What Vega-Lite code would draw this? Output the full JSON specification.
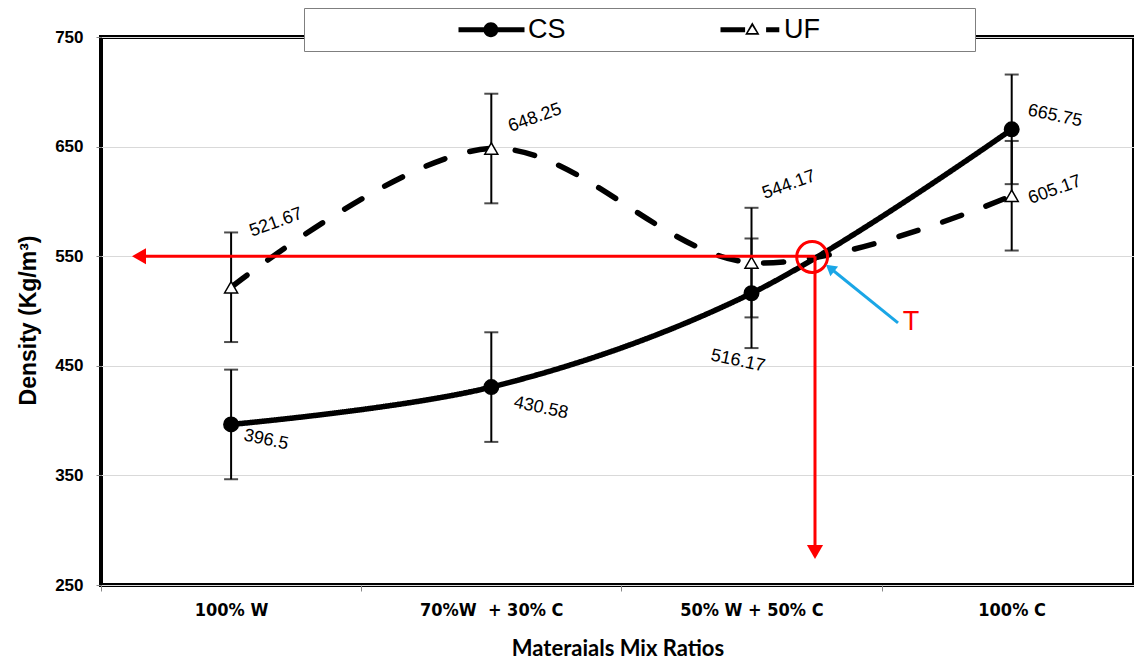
{
  "$schema": "https://vega.github.io/schema/vega-lite/v6.json",
  "width": 1033,
  "height": 548,
  "autosize": {"type": "none"},
  "padding": {"left": 101, "top": 37, "right": 0, "bottom": 82},
  "background": "white",
  "config": {
    "view": {"stroke": "black", "strokeWidth": 4},
    "font": "Liberation Sans"
  },
  "datasets": {
    "series": [
      {"pos": 0, "mix": "100% W", "series": "CS", "value": 396.5, "lo": 346.5, "hi": 446.5},
      {"pos": 1, "mix": "70%W  + 30% C", "series": "CS", "value": 430.58, "lo": 380.58, "hi": 480.58},
      {"pos": 2, "mix": "50% W + 50% C", "series": "CS", "value": 516.17, "lo": 466.17, "hi": 566.17},
      {"pos": 3, "mix": "100% C", "series": "CS", "value": 665.75, "lo": 615.75, "hi": 715.75},
      {"pos": 0, "mix": "100% W", "series": "UF", "value": 521.67, "lo": 471.67, "hi": 571.67},
      {"pos": 1, "mix": "70%W  + 30% C", "series": "UF", "value": 648.25, "lo": 598.25, "hi": 698.25},
      {"pos": 2, "mix": "50% W + 50% C", "series": "UF", "value": 544.17, "lo": 494.17, "hi": 594.17},
      {"pos": 3, "mix": "100% C", "series": "UF", "value": 605.17, "lo": 555.17, "hi": 655.17}
    ],
    "labels": [
      {"series": "CS", "text": "396.5", "lx": 0.134, "ly": 382.3},
      {"series": "CS", "text": "430.58", "lx": 1.191, "ly": 411.5},
      {"series": "CS", "text": "516.17", "lx": 1.948, "ly": 454.4},
      {"series": "CS", "text": "665.75", "lx": 3.166, "ly": 677.9},
      {"series": "UF", "text": "521.67", "lx": 0.173, "ly": 580.6},
      {"series": "UF", "text": "648.25", "lx": 1.168, "ly": 676.1},
      {"series": "UF", "text": "544.17", "lx": 2.144, "ly": 615.0},
      {"series": "UF", "text": "605.17", "lx": 3.166, "ly": 610.4}
    ],
    "redlines": [
      {"x": 2.244, "y": 550, "x2": -0.354, "y2": 550},
      {"x": 2.244, "y": 550, "x2": 2.244, "y2": 285}
    ],
    "redheads": [
      {"x": -0.354, "y": 550, "dir": "left"},
      {"x": 2.244, "y": 280.1, "dir": "down"}
    ],
    "circle": [{"x": 2.233, "y": 549.3}],
    "blueline": [{"x": 2.563, "y": 489.1, "x2": 2.302, "y2": 539.2}],
    "bluehead": [{"x": 2.302, "y": 539.2}],
    "tlabel": [{"x": 2.613, "y": 490, "text": "T"}]
  },
  "resolve": {"scale": {"shape": "independent"}},
  "encoding": {
    "x": {
      "type": "quantitative",
      "scale": {"domain": [-0.5, 3.47], "nice": false, "zero": false},
      "axis": {
        "title": "Materaials Mix Ratios",
        "values": [-0.5, 0.5, 1.5, 2.5],
        "labelExpr": "datum.value < 0 ? '100% W' : datum.value < 1 ? '70%W\u00a0 + 30% C' : datum.value < 2 ? '50% W + 50% C' : '100% C'",
        "labelOffset": 130,
        "labelFlush": false,
        "labelOverlap": false,
        "labelBound": false,
        "grid": false,
        "domain": false,
        "tickColor": "#888888",
        "tickSize": 6,
        "labelFont": "DejaVu Sans Condensed",
        "labelFontWeight": "bold",
        "labelFontSize": 18,
        "labelColor": "black",
        "labelPadding": 10,
        "titleFont": "Lato",
        "titleFontWeight": "bold",
        "titleFontSize": 22,
        "titleColor": "black",
        "titlePadding": 19
      }
    },
    "y": {
      "type": "quantitative",
      "scale": {"domain": [250, 750], "nice": false, "zero": false},
      "axis": {
        "title": "Density (Kg/m³)",
        "values": [250, 350, 450, 550, 650, 750],
        "grid": true,
        "gridColor": "#d9d9d9",
        "domain": false,
        "tickColor": "#888888",
        "tickSize": 5,
        "labelFont": "Liberation Sans",
        "labelFontWeight": "bold",
        "labelFontSize": 17,
        "labelColor": "black",
        "labelPadding": 13,
        "titleFont": "Liberation Sans",
        "titleFontWeight": "bold",
        "titleFontSize": 23,
        "titleColor": "black",
        "titlePadding": 14,
        "titleY": 283
      }
    }
  },
  "layer": [
    {
      "data": {"name": "series"},
      "mark": {"type": "rule", "color": "black", "strokeWidth": 2},
      "encoding": {"x": {"field": "pos"}, "y": {"field": "lo"}, "y2": {"field": "hi"}}
    },
    {
      "data": {"name": "series"},
      "mark": {"type": "tick", "orient": "horizontal", "color": "black", "size": 14, "thickness": 2},
      "encoding": {"x": {"field": "pos"}, "y": {"field": "lo"}}
    },
    {
      "data": {"name": "series"},
      "mark": {"type": "tick", "orient": "horizontal", "color": "black", "size": 14, "thickness": 2},
      "encoding": {"x": {"field": "pos"}, "y": {"field": "hi"}}
    },
    {
      "data": {"name": "series"},
      "mark": {"type": "line", "color": "black", "strokeWidth": 5.5, "interpolate": "catmull-rom", "strokeCap": "round"},
      "encoding": {
        "x": {"field": "pos"},
        "y": {"field": "value"},
        "strokeDash": {"field": "series", "type": "nominal", "scale": {"domain": ["CS", "UF"], "range": [[1, 0], [20, 26]]}, "legend": null}
      }
    },
    {
      "data": {"name": "series"},
      "mark": {"type": "point", "filled": true, "stroke": "black", "strokeWidth": 1.5, "opacity": 1},
      "encoding": {
        "x": {"field": "pos"},
        "y": {"field": "value"},
        "shape": {"field": "series", "type": "nominal", "scale": {"domain": ["CS", "UF"], "range": ["circle", "triangle-up"]}, "legend": null},
        "fill": {"field": "series", "type": "nominal", "scale": {"domain": ["CS", "UF"], "range": ["black", "white"]}, "legend": null},
        "size": {"field": "series", "type": "nominal", "scale": {"domain": ["CS", "UF"], "range": [210, 170]}, "legend": null}
      }
    },
    {
      "data": {"name": "series"},
      "mark": {"type": "point", "filled": true, "color": "black", "opacity": 0, "size": 576},
      "encoding": {
        "x": {"field": "pos"},
        "y": {"field": "value"},
        "shape": {
          "field": "series",
          "type": "nominal",
          "scale": {
            "domain": ["CS", "UF"],
            "range": [
              "M-4.5,-0.21H1V0.21H-4.5Z M-2.42,0A0.62,0.62,0,1,1,-1.18,0A0.62,0.62,0,1,1,-2.42,0Z",
              "M-4,-0.21H-1.95V0.21H-4Z M-1.35,-0.62L-0.75,0.42L-1.95,0.42Z M-1.35,-0.32L-1.72,0.28L-0.98,0.28Z M-0.2,-0.21H0.9V0.21H-0.2Z"
            ]
          },
          "legend": {
            "title": "\u00a0",
            "titleOrient": "right",
            "titlePadding": 147,
            "titleFontSize": 10,
            "orient": "none",
            "legendX": 203,
            "legendY": -29,
            "direction": "horizontal",
            "fillColor": "white",
            "strokeColor": "#7f7f7f",
            "padding": 8,
            "symbolOffset": 187,
            "columnPadding": 2,
            "labelFont": "Liberation Sans",
            "labelFontSize": 27,
            "labelColor": "black",
            "labelOffset": 2,
            "symbolSize": 576,
            "symbolFillColor": "black",
            "symbolStrokeColor": "black",
            "symbolStrokeWidth": 0,
            "symbolOpacity": 1
          }
        }
      }
    },
    {
      "data": {"name": "labels"},
      "mark": {"type": "text", "fontSize": 18, "font": "Liberation Sans", "color": "black", "align": "center", "baseline": "middle"},
      "encoding": {
        "x": {"field": "lx"},
        "y": {"field": "ly"},
        "text": {"field": "text"},
        "angle": {"field": "series", "type": "nominal", "scale": {"domain": ["CS", "UF"], "range": [12, -20]}, "legend": null}
      }
    },
    {
      "data": {"name": "redlines"},
      "mark": {"type": "rule", "color": "#ff0000", "strokeWidth": 3},
      "encoding": {"x": {"field": "x"}, "y": {"field": "y"}, "x2": {"field": "x2"}, "y2": {"field": "y2"}}
    },
    {
      "data": {"name": "redheads"},
      "mark": {"type": "point", "filled": true, "color": "#ff0000", "size": 260, "opacity": 1},
      "encoding": {
        "x": {"field": "x"},
        "y": {"field": "y"},
        "shape": {"field": "dir", "type": "nominal", "scale": {"domain": ["left", "down"], "range": ["triangle-left", "triangle-down"]}, "legend": null}
      }
    },
    {
      "data": {"name": "circle"},
      "mark": {"type": "point", "shape": "circle", "filled": false, "stroke": "#ff0000", "strokeWidth": 3, "size": 950, "opacity": 1},
      "encoding": {"x": {"field": "x"}, "y": {"field": "y"}}
    },
    {
      "data": {"name": "blueline"},
      "mark": {"type": "rule", "color": "#1aa6e6", "strokeWidth": 3},
      "encoding": {"x": {"field": "x"}, "y": {"field": "y"}, "x2": {"field": "x2"}, "y2": {"field": "y2"}}
    },
    {
      "data": {"name": "bluehead"},
      "mark": {"type": "point", "shape": "triangle-up", "filled": true, "color": "#1aa6e6", "size": 150, "angle": -51, "opacity": 1},
      "encoding": {"x": {"field": "x"}, "y": {"field": "y"}}
    },
    {
      "data": {"name": "tlabel"},
      "mark": {"type": "text", "fontSize": 27, "font": "Liberation Sans", "color": "#ff0000", "align": "center", "baseline": "middle"},
      "encoding": {"x": {"field": "x"}, "y": {"field": "y"}, "text": {"field": "text"}}
    }
  ]
}
